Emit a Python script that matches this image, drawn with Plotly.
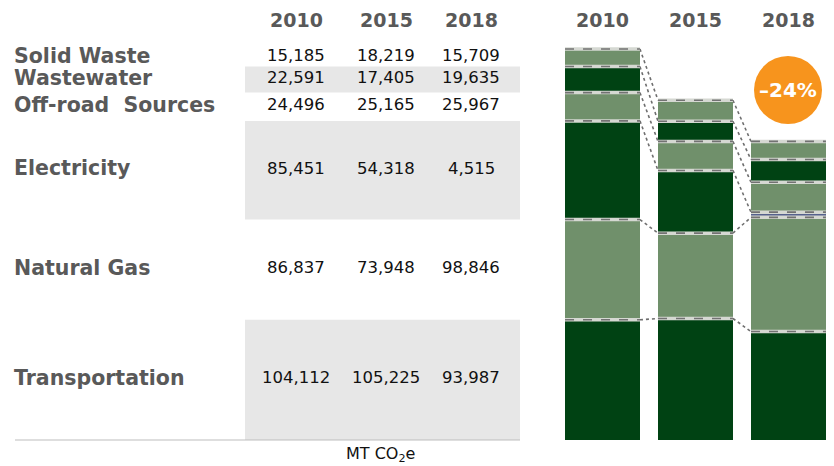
import plotly.graph_objects as go

years = ["2010", "2015", "2018"]
categories = ["Transportation", "Natural Gas", "Electricity", "Off-road  Sources", "Wastewater", "Solid Waste"]
values = {
    "Transportation": [104112, 105225, 93987],
    "Natural Gas": [86837, 73948, 98846],
    "Electricity": [85451, 54318, 4515],
    "Off-road  Sources": [24496, 25165, 25967],
    "Wastewater": [22591, 17405, 19635],
    "Solid Waste": [15185, 18219, 15709],
}
unit_label = "MT CO<sub>2</sub>e"

DARK = "#004213"
LIGHT = "#70906B"
seg_colors = {
    "Transportation": DARK,
    "Natural Gas": LIGHT,
    "Electricity": [DARK, DARK, "#55618C"],
    "Off-road  Sources": LIGHT,
    "Wastewater": DARK,
    "Solid Waste": LIGHT,
}
LABEL_FONT = "Century Gothic, DejaVu Sans, sans-serif"
NUM_FONT = "Century Gothic, DejaVu Sans, sans-serif"

fig = go.Figure()
for c in categories:
    fig.add_trace(go.Bar(x=[0, 1, 2], y=values[c], marker=dict(color=seg_colors[c], line=dict(width=0)),
                         name=c, hoverinfo="skip"))

# cumulative boundaries
cum = []
for i in range(3):
    s = 0
    lv = []
    for c in categories:
        s += values[c][i]
        lv.append(s)
    cum.append(lv)

half = 0.5 * (1 - 0.194)
shapes = []
# table gray bands (aligned with 2010 segments)
col_x = [296 / 834, 386 / 834, 471 / 834]
band_x0, band_x1 = 245 / 834, 520 / 834
prev = 0
for k, c in enumerate(categories):
    top = cum[0][k]
    if c in ("Transportation", "Electricity", "Wastewater"):
        shapes.append(dict(type="rect", xref="paper", yref="y", x0=band_x0, x1=band_x1, y0=prev, y1=top,
                           fillcolor="#E7E7E7", line=dict(width=0), layer="below"))
    prev = top

# connectors
for i in range(2):
    for k in range(len(categories)):
        shapes.append(dict(type="line", xref="x", yref="y", x0=i + half, x1=i + 1 - half,
                           y0=cum[i][k], y1=cum[i + 1][k], line=dict(color="#6E6E6E", width=1.6, dash="dot")))
# boundaries inside bars
for i in range(3):
    for k in range(len(categories)):
        shapes.append(dict(type="line", xref="x", yref="y", x0=i - half, x1=i + half,
                           y0=cum[i][k], y1=cum[i][k], line=dict(color="#D5D8D2", width=3.5)))
        shapes.append(dict(type="line", xref="x", yref="y", x0=i - half, x1=i + half,
                           y0=cum[i][k], y1=cum[i][k], line=dict(color="#727272", width=1.6, dash="dash")))

# bottom rule
shapes.append(dict(type="line", xref="paper", yref="y", x0=15 / 834, x1=520 / 834, y0=0, y1=0,
                   line=dict(color="#BDBDBD", width=1.2)))

# orange circle
shapes.append(dict(type="circle", xref="paper", yref="paper", x0=754 / 834, x1=822 / 834,
                   y0=1 - 124 / 466, y1=1 - 56 / 466, fillcolor="#F7941D", line=dict(width=0)))

annotations = []
# row labels and numbers
prev = 0
for k, c in enumerate(categories):
    mid = (prev + cum[0][k]) / 2
    prev = cum[0][k]
    annotations.append(dict(x=12 / 834, y=mid, xref="paper", yref="y", text=c, showarrow=False,
                            xanchor="left", yanchor="middle", yshift=2,
                            font=dict(family=LABEL_FONT, size=20.5, color="#595959", weight="bold")))
    for j in range(3):
        annotations.append(dict(x=col_x[j], y=mid, xref="paper", yref="y", text=f"{values[c][j]:,}",
                                showarrow=False, xanchor="center", yanchor="middle", yshift=2,
                                font=dict(family=NUM_FONT, size=16.5, color="#111111")))

# headers
for j, yr in enumerate(years):
    annotations.append(dict(x=col_x[j], y=1 - 20 / 466, xref="paper", yref="paper", text=yr, showarrow=False,
                            xanchor="center", yanchor="middle",
                            font=dict(family=LABEL_FONT, size=19, color="#595959", weight="bold")))
    annotations.append(dict(x=j, y=1 - 20 / 466, xref="x", yref="paper", text=yr, showarrow=False,
                            xanchor="center", yanchor="middle",
                            font=dict(family=LABEL_FONT, size=19, color="#595959", weight="bold")))

totals = [cum[i][-1] for i in range(3)]
pct = round((totals[2] - totals[0]) / totals[0] * 100)
annotations.append(dict(x=788 / 834, y=1 - 90 / 466, xref="paper", yref="paper",
                        text=f"\u2013{abs(pct)}%", showarrow=False, xanchor="center", yanchor="middle",
                        font=dict(family=LABEL_FONT, size=20, color="white", weight="bold")))

annotations.append(dict(x=380 / 834, y=1 - 454 / 466, xref="paper", yref="paper", text=unit_label,
                        showarrow=False, xanchor="center", yanchor="middle",
                        font=dict(family=NUM_FONT, size=16, color="#111111")))

px_per_unit = 391 / totals[0]
ymin = -26 / px_per_unit
ymax = 440 / px_per_unit

fig.update_layout(
    width=834, height=466,
    margin=dict(l=0, r=0, t=0, b=0),
    paper_bgcolor="white", plot_bgcolor="white",
    barmode="stack", bargap=0.194, showlegend=False,
    xaxis=dict(domain=[556 / 834, 1], range=[-0.5, 2.49], visible=False, fixedrange=True),
    yaxis=dict(range=[ymin, ymax], visible=False, fixedrange=True),
    shapes=shapes, annotations=annotations,
)

fig.write_html("out.html", config={"displayModeBar": False},
               post_script="document.body.style.margin='0';document.body.style.overflow='hidden';")
